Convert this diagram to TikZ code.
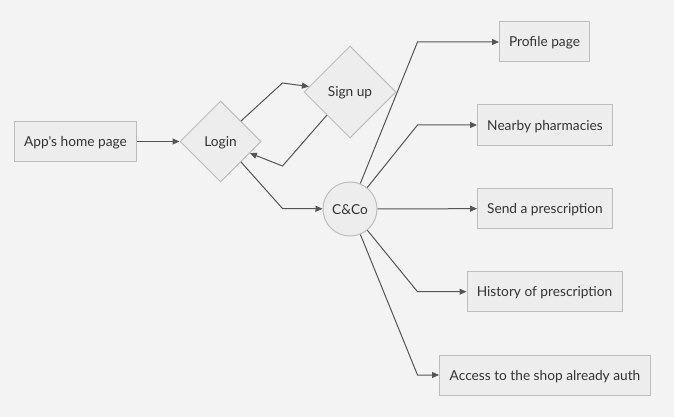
\documentclass[tikz,border=0pt]{standalone}
\usepackage{fontspec}
\setmainfont{Lato}[Ligatures=TeXOff]
\usetikzlibrary{shapes.geometric,arrows.meta}
\definecolor{bgc}{HTML}{F3F3F3}
\definecolor{fillc}{HTML}{EDEDED}
\definecolor{borderc}{HTML}{BDBDBD}
\definecolor{linec}{HTML}{555555}
\definecolor{textc}{HTML}{333333}
\tikzset{
  every node/.style={font=\fontsize{13.7}{16}\selectfont, text=textc, text height=10pt, text depth=0pt},
  boxnode/.style={draw=borderc, fill=fillc, line width=1pt, rectangle, minimum height=40pt, inner sep=0pt},
  diam/.style={draw=borderc, fill=fillc, line width=1pt, diamond, aspect=1, inner sep=0pt},
  circnode/.style={draw=borderc, fill=fillc, line width=1pt, circle, minimum size=54pt, inner sep=0pt},
  conn/.style={draw=linec, line width=1pt, -{Triangle[length=7pt,width=6pt]}}
}
\begin{document}
\begin{tikzpicture}[x=1pt,y=-1pt]
\fill[bgc] (0,0) rectangle (674,417);
\useasboundingbox (0,0) rectangle (674,417);
\node[boxnode, minimum width=122pt] (home) at (75.5,141.5) {App's home page};
\node[diam, minimum width=81pt, minimum height=81pt] (login) at (220.5,141.5) {Login};
\node[diam, minimum width=92pt, minimum height=92pt] (signup) at (350,92) {Sign up};
\node[circnode] (cco) at (350,209) {C\&Co};
\node[boxnode, minimum width=90pt] (profile) at (544.5,42) {Profile page};
\node[boxnode, minimum width=135pt] (nearby) at (545,125) {Nearby pharmacies};
\node[boxnode, minimum width=135pt] (send) at (545,208.5) {Send a prescription};
\node[boxnode, minimum width=155pt] (history) at (544.5,291.7) {History of prescription};
\node[boxnode, minimum width=211pt] (access) at (545,375) {Access to the shop already auth};
\coordinate (b1) at (282.5,83);
\coordinate (b2) at (282.5,166);
\coordinate (b3) at (282.5,208.5);
\coordinate (r1) at (417.5,42);
\coordinate (r2) at (417.5,125);
\coordinate (r4) at (417.5,291.7);
\coordinate (r5) at (417.5,375);
\draw[conn] (home) -- (login);
\draw[conn] (login.north east) -- (b1) -- (signup);
\draw[conn] (signup.south west) -- (b2) -- (login);
\draw[conn] (login.south east) -- (b3) -- (cco);
\draw[conn] (cco) -- (r1) -- (profile);
\draw[conn] (cco) -- (r2) -- (nearby);
\draw[conn] (cco) -- (send);
\draw[conn] (cco) -- (r4) -- (history);
\draw[conn] (cco) -- (r5) -- (access);
\end{tikzpicture}
\end{document}
